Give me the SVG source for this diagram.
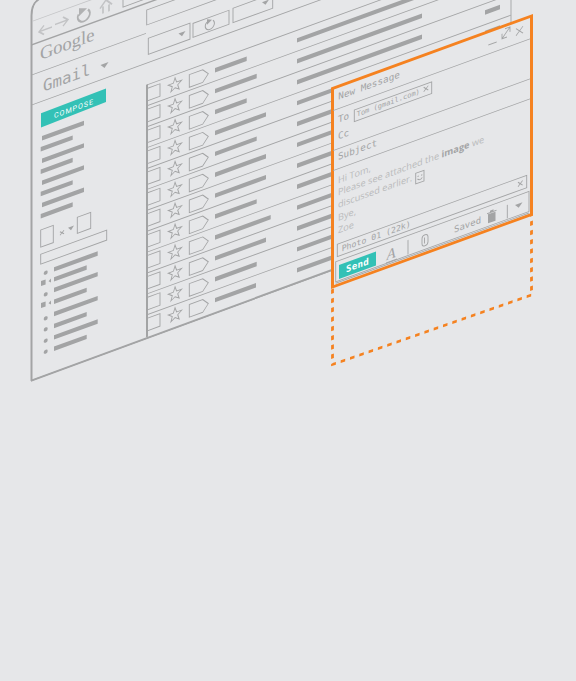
<svg xmlns="http://www.w3.org/2000/svg" width="576" height="681" viewBox="0 0 576 681">
<style>
.l{fill:none;stroke:#a3a4a5;stroke-width:.9}
.f{fill:#e6e7e9;stroke:#a3a4a5;stroke-width:.9}
.b{fill:none;stroke:#a3a4a5;stroke-width:4.4}
.d{fill:#a3a4a5;stroke:none}
.k{fill:none;stroke:#a3a4a5;stroke-width:2}
.m{font-family:"DejaVu Sans Mono",monospace;fill:#a3a4a5}
.s{font-family:"Open Sans",sans-serif;fill:#b9babb;font-size:9.2px}
.c{fill:none;stroke:#f58220;stroke-width:2.8;stroke-dasharray:4.5 4.8}
</style>
<defs>
<g id="rowmark">
<rect x="147.3" y="-6.5" width="12.7" height="12.5" class="l"/>
<polygon points="175,-7 176.600,-2.200 181.700,-2.100 177.700,.9 179.100,5.700 175,2.900 170.900,5.700 172.300,.9 168.300,-2.100 173.400,-2.200" class="l"/>
<path d="M189.300-5H202.700L208.300 1 202.700 7.700H189.300Z" class="l"/>
</g>
</defs>
<rect width="576" height="681" fill="#e6e7e9"/>
<g transform="matrix(1 -.364 0 1 0 0)">
<g id="browser">
<path d="M31.500 392V27Q31.500 13 42 13H511V391Z" class="f"/>
<path d="M31.500 392V27Q31.500 13 42 13" fill="none" stroke="#a3a4a5" stroke-width="2"/>
<path d="M31 392L511 390" class="k" stroke-width="1.600"/>
<path d="M32 33H511" stroke="#c4c5c7" stroke-width=".9"/>
<path d="M32 56.500H511" fill="none" stroke="#a3a4a5" stroke-width="1.500"/>
<path d="M32 86.500H146M32 116.500H511" class="l"/>
</g>
<g id="nav" fill="none" stroke="#c2c3c5" stroke-width="1.500">
<path d="M52 46H39M44 41.500L39 46 44 50.500M55 44.500H68M63 40L68 44.500 63 49"/>
<path d="M78.500 43A6 6 0 1 0 88 41.500" stroke="#b0b1b2" stroke-width="2"/><path d="M79 37L87 40 79 45Z" fill="#b0b1b2" stroke="none"/>
<path d="M100 45L106 38.500 112 45M103 44V51M109 44V51" stroke-width="1.700"/>
<rect x="123" y="37" width="280" height="14.800" class="l"/>
</g>
<g id="logo">
<text x="40" y="74.500" font-family="'Liberation Serif',serif" font-size="18.500" fill="#a3a4a5">Google</text>
<text x="43" y="107.500" class="m" font-size="15.800">Gmail</text>
<path d="M100.500 101.500H108.500L104.500 106Z" class="d"/>
</g>
<g id="toolbar">
<rect x="146.700" y="63.400" width="110" height="15" class="l"/>
<rect x="148.300" y="92.300" width="41.700" height="16" class="l"/><path d="M178.500 98.500H185.500L182 102.500Z" class="d"/>
<rect x="193" y="93.600" width="36" height="14" class="l"/>
<path d="M207 97.500A4.600 4.600 0 1 0 213 97.800" fill="none" stroke="#a3a4a5" stroke-width="1"/><path d="M207 94.500L212 97 207 100Z" class="d"/>
<rect x="233" y="93" width="39.700" height="14.500" class="l"/><path d="M262 97.500H269L265.500 101.500Z" class="d"/>
</g>
<g id="sidebar">
<polygon points="41,128.200 106,127 106,140.500 41,142.500" fill="#33c1b6"/>
<text x="74" y="138" text-anchor="middle" font-family="Roboto,sans-serif" font-size="7.200" letter-spacing=".9" fill="#fff">COMPOSE</text>
<path d="M42 153.600H84M40.700 164.100H72.700M42 176H84M40.700 186.500H72.700M42 198H84M40.700 208.800H72.700M42 220.300H84M40.700 231H72.700" class="b"/>
<rect x="40.700" y="244.800" width="12.600" height="17.200" class="l"/>
<rect x="77.300" y="245.400" width="13.400" height="16" class="l"/>
<path d="M60 253.600L64 257M64 253.600L60 257" stroke="#a3a4a5" stroke-width="1" fill="none"/>
<path d="M68 252.500H74L71 256Z" class="d"/>
<rect x="40.700" y="269" width="66" height="10" class="l"/>
<path d="M54 289H97.700M54 299H86.700M54 309.700H97.700M54 321.400H86.700M54 333.700H97.700M54 345.700H86.700M54 357H97.700M54 368.400H86.700" class="b"/>
<g class="d">
<circle cx="45.700" cy="289.300" r="2"/><rect x="41" y="296" width="4.600" height="5"/><path d="M51 297L48.500 299 51 301Z"/>
<circle cx="45.700" cy="311" r="2"/><rect x="41" y="318" width="4.600" height="5"/><path d="M51 319L48.500 321 51 323Z"/>
<circle cx="45.700" cy="335" r="2"/><circle cx="45.700" cy="346" r="2"/><circle cx="45.700" cy="357.300" r="2"/><circle cx="45.700" cy="368.300" r="2"/>
</g>
</g>
<g id="list">
<path d="M147 138V390.500" class="k"/>
<path d="M147 138.400H511M147 159.300H511M147 180.200H511M147 201.100H511M147 222H511M147 242.900H511M147 263.800H511M147 284.700H511M147 305.600H511M147 326.500H511M147 347.400H511M147 368.300H511" class="l"/>
<use href="#rowmark" y="148.500"/><use href="#rowmark" y="169.400"/><use href="#rowmark" y="190.300"/><use href="#rowmark" y="211.200"/><use href="#rowmark" y="232.100"/><use href="#rowmark" y="253"/><use href="#rowmark" y="273.900"/><use href="#rowmark" y="294.800"/><use href="#rowmark" y="315.700"/><use href="#rowmark" y="336.600"/><use href="#rowmark" y="357.500"/><use href="#rowmark" y="378.400"/>
<path d="M215 148.500H246.700M215 169.400H256.700M215 190.300H246.700M215 211.200H266M215 232.100H256.700M215 253H266M215 273.900H266M215 294.800H256.700M215 315.700H270.700M215 336.600H266M215 357.500H256.700M215 378.400H256" class="b"/>
<path d="M297 148.500H422M297 169.400H422M297 190.300H422M297 211.200H422M297 232.100H422M297 253H422M297 273.900H422M297 294.800H422M297 315.700H422M297 336.600H422M297 357.500H422M297 378.400H422M485 189H500M485 209.500H500" class="b"/>
</g>
<g id="compose">
<rect x="332.500" y="209.500" width="199" height="198.500" fill="#e6e7e9" stroke="#f58220" stroke-width="3"/>
<path d="M333 231.800H530M333 271.800H530M333 291.800H530" class="l"/>
<text x="338.300" y="223" class="m" font-size="9.300">New Message</text>
<path d="M488.300 222.800H496.700" class="l"/>
<path d="M502 221.500L510 212.500M505 212.500H510V217.500M502 216.500V221.500H507" class="l"/>
<path d="M516 216.500L523 223.500M523 216.500L516 223.500" class="l" stroke-width="1.100"/>
<text x="338" y="245.800" class="m" font-size="9.300">To</text>
<rect x="354.300" y="239" width="77.400" height="11.700" class="l"/>
<text x="356.700" y="246.500" class="m" font-size="7">Tom (gmail.com)</text>
<path d="M423.700 241.500L428.300 246M428.300 241.500L423.700 246" class="l" stroke-width="1.100"/>
<text x="338" y="262.500" class="m" font-size="9.300">Cc</text>
<text x="338" y="283" class="m" font-size="9.300">Subject</text>
<text x="338" y="306.500" class="s">Hi Tom,</text>
<text x="338" y="318.500" class="s">Please see attached the <tspan font-weight="700" fill="#a3a4a5">image</tspan> we</text>
<text x="338" y="331" class="s">discussed earlier.</text>
<text x="338" y="344" class="s">Bye,</text>
<text x="338" y="356.500" class="s">Zoe</text>
<rect x="415.700" y="324.600" width="8.300" height="10.700" class="l"/>
<path d="M417.500 328.500H418.800M421 328.500H422.300M417.500 331Q420 334 422.300 331" class="l"/>
<rect x="337.300" y="367" width="189.400" height="12.400" class="l"/>
<text x="341.700" y="376" class="m" font-size="8.200">Photo 01 (22k)</text>
<path d="M518 370.800L522.600 375.300M522.600 370.800L518 375.300" class="l" stroke-width="1.100"/>
<rect x="335.700" y="384" width="193.300" height="20" class="l"/>
<path d="M335.700 405.500H529" class="l"/>
<rect x="339" y="388.400" width="37" height="14" fill="#33c1b6"/>
<text x="346" y="398.400" font-family="'DejaVu Sans Mono',monospace" font-size="9.200" font-weight="700" fill="#fff" letter-spacing=".2">Send</text>
<text x="386.500" y="401" font-family="'Liberation Serif',serif" font-style="italic" font-size="15" fill="#a3a4a5">A</text>
<path d="M386 403.500H397" class="l"/>
<path d="M408 388.500V403M507.300 389.600V403" class="l" stroke-width="1.300"/>
<rect x="422" y="389.500" width="6" height="11" rx="3" class="l" stroke-width="1.200"/><path d="M424.500 392V398" class="l"/>
<text x="454" y="398" class="m" font-size="9">Saved</text>
<path d="M488 392H495.500V401H488ZM487 390.500H496.500V391.500H487ZM490 389H493.500V390.500H490Z" class="d"/>
<path d="M515 392.500H522.500L518.700 396.500Z" class="d"/>
</g>
<g id="connectors">
<path d="M332.500 410V485.500L531.500 488.500V409" class="c"/>
</g>
</g>
</svg>
